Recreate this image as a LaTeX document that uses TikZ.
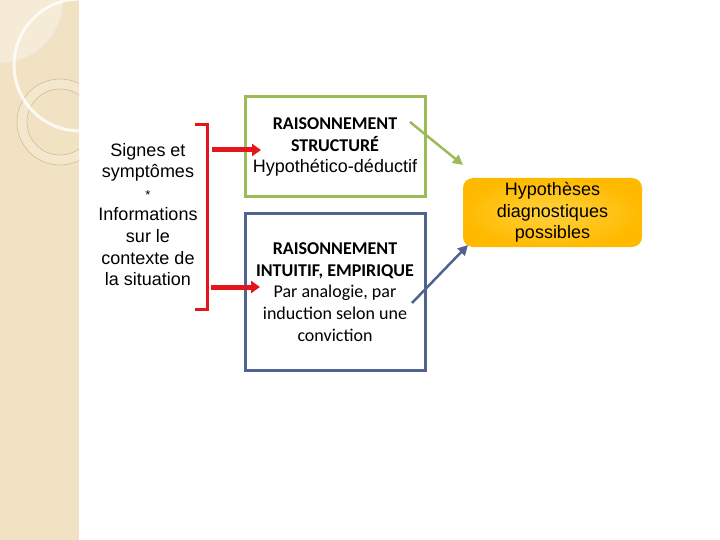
\documentclass[tikz,border=0pt]{standalone}
\usepackage{fontspec}
\setmainfont{Liberation Sans}
\newfontfamily\calibri{Carlito}
\newcommand\cgras{\calibri\bfseries}
\usetikzlibrary{arrows.meta,positioning}
\definecolor{diagbeige}{HTML}{F1E2C3}
\definecolor{diagclair}{HTML}{F5EBD6}
\definecolor{diaganneau}{HTML}{D2BE94}
\definecolor{diagrouge}{HTML}{E3161C}
\definecolor{diagvert}{HTML}{9BBB59}
\definecolor{diagbleu}{HTML}{4F6290}
\definecolor{diagor}{HTML}{FFBA00}
\definecolor{diagorclair}{HTML}{FFD23E}
\tikzset{
  bx/.style={align=center, inner sep=2pt, font=\fontsize{18}{21.6}\selectfont},
  raison/.style={bx, line width=3pt, minimum width=180pt},
  vert/.style={raison, draw=diagvert, minimum height=100pt},
  bleu/.style={raison, draw=diagbleu, minimum height=156pt},
  hypo/.style={bx, rounded corners=10pt, minimum width=179pt, minimum height=69pt, inner color=diagorclair, outer color=diagor},
  crochet/.style={draw=diagrouge, line width=3pt},
  flrouge/.style={-{Triangle[length=9pt, width=12pt]}, line width=5pt, color=diagrouge},
  fl/.style={-{Triangle[length=10pt, width=10pt]}, line width=2.5pt},
}

\begin{document}
\begin{tikzpicture}[x=1pt, y=-1pt]
    \useasboundingbox (0,0) rectangle (720,540);
    \fill[white] (0,0) rectangle (720,540);
    \begin{scope}
      \clip (0,0) rectangle (79,540);
      \fill[diagbeige] (0,0) rectangle (79,540);
      \draw[diaganneau!40, fill=diagclair, line width=0.5pt] (0,0) circle[radius=63];
      \draw[diaganneau, line width=0.6pt, fill=diagclair!55!diagbeige, even odd rule] (60,122) circle[radius=43] (60,122) circle[radius=33];
      \draw[white, line width=3pt, opacity=0.8] (80,65) circle[radius=66];
    \end{scope}

    \node[bx] (signes) at (148,214.5) {Signes et\\symptômes\\{\fontsize{13}{21.6}\selectfont *}\\Informations\\sur le\\contexte de\\la situation};
    \node[vert] (struct) at (335,147) {\cgras RAISONNEMENT\\\cgras STRUCTURÉ\\Hypothético-déductif};
    \node[bleu] (intuit) at (335,292) {\cgras RAISONNEMENT\\\cgras INTUITIF, EMPIRIQUE\\\calibri Par analogie, par\\\calibri induction selon une\\\calibri conviction};
    \node[hypo] (hyp) at (552.5,212.5) {Hypothèses\\diagnostiques\\possibles};

    \coordinate (crH) at (195,125);
    \coordinate (crB) at (195,309);
    \draw[crochet] (crH) -- ++(12,0) |- (crB);

    \coordinate (r1) at (212,150);
    \coordinate (r1e) at (261,150);
    \coordinate (r2) at (211,287);
    \coordinate (r2e) at (260,287);
    \draw[flrouge] (r1) -- (r1e);
    \draw[flrouge] (r2) -- (r2e);

    \coordinate (v1) at (410,122);
    \coordinate (v1e) at (463,165);
    \coordinate (b1) at (412,303);
    \coordinate (b1e) at (468,245);
    \draw[fl, diagvert] (v1) -- (v1e);
    \draw[fl, diagbleu] (b1) -- (b1e);
  \end{tikzpicture}
\end{document}
